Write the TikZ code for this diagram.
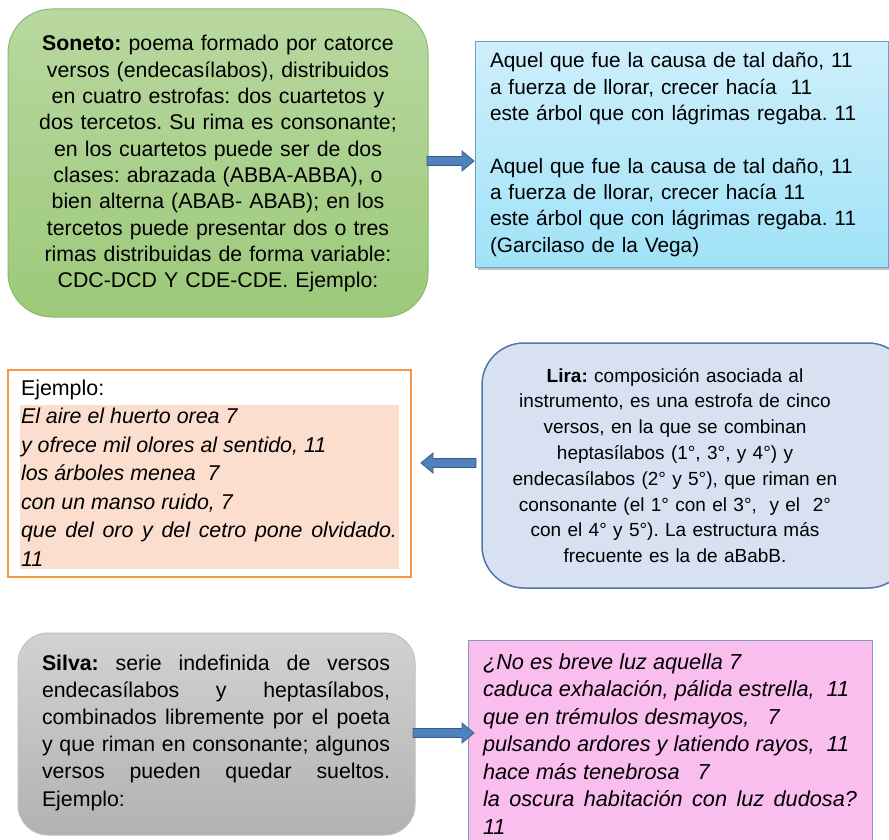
\documentclass[tikz,border=0pt]{standalone}
\usepackage{fontspec}
\setmainfont{Liberation Sans}
\frenchspacing
\definecolor{arrowfill}{RGB}{79,129,189}
\definecolor{arrowline}{RGB}{56,93,138}
\definecolor{greentop}{RGB}{184,216,160}
\definecolor{greenbot}{RGB}{156,201,122}
\definecolor{greenline}{RGB}{140,186,106}
\definecolor{cyantop}{RGB}{206,239,251}
\definecolor{cyanbot}{RGB}{160,226,248}
\definecolor{cyanline}{RGB}{112,160,200}
\definecolor{orangeline}{RGB}{247,150,70}
\definecolor{peach}{RGB}{251,222,205}
\definecolor{lirafill}{RGB}{215,225,242}
\definecolor{liraline}{RGB}{79,120,168}
\definecolor{graytop}{RGB}{210,210,210}
\definecolor{graybot}{RGB}{178,178,178}
\definecolor{grayline}{RGB}{192,192,192}
\definecolor{pinkfill}{RGB}{249,190,238}
\definecolor{pinkline}{RGB}{125,155,195}
\tikzset{
  txt/.style={inner sep=0pt, outer sep=0pt, text=black},
  blockarrow/.style={fill=arrowfill, draw=arrowline, line width=0.8pt, line join=miter},
}
\begin{document}
\begin{tikzpicture}[x=1pt,y=-1pt]
\path[use as bounding box, clip] (0,0) rectangle (889,840);
\fill[white] (0,0) rectangle (889,840);

% ---------- Row 1 ----------
\draw[greenline, line width=1pt, rounded corners=44pt, top color=greentop, bottom color=greenbot]
  (8,9) rectangle (428,317);
\node[txt, anchor=base, align=center, text width=420pt,
      font={\fontsize{21.3}{26.3}\selectfont\frenchspacing}] (soneto) at (218,51) {%
\textbf{Soneto:} poema formado por catorce\\
versos (endecasílabos), distribuidos\\
en cuatro estrofas: dos cuartetos y\\
dos tercetos. Su rima es consonante;\\
en los cuartetos puede ser de dos\\
clases: abrazada (ABBA-ABBA), o\\
bien alterna (ABAB- ABAB); en los\\
tercetos puede presentar dos o tres\\
rimas distribuidas de forma variable:\\
CDC-DCD Y CDE-CDE. Ejemplo:};

\fill[black!25] (478,45) rectangle (891,270);
\draw[cyanline, line width=1pt, top color=cyantop, bottom color=cyanbot]
  (475,42) rectangle (888,267);
\node[txt, anchor=base west, align=left, text width=395pt,
      font={\fontsize{20.8}{26.3}\selectfont\frenchspacing}] (garci) at (490,68) {%
Aquel que fue la causa de tal daño, 11\\
a fuerza de llorar, crecer hacía\ \ 11\\
este árbol que con lágrimas regaba. 11\\[26.3pt]
Aquel que fue la causa de tal daño, 11\\
a fuerza de llorar, crecer hacía 11\\
este árbol que con lágrimas regaba. 11\\
(Garcilaso de la Vega)};

\draw[blockarrow] (427,156.5) -- (462,156.5) -- (462,151) -- (474,161) -- (462,171) -- (462,165.5) -- (427,165.5) -- cycle;

% ---------- Row 2 ----------
\draw[orangeline, line width=1.5pt, fill=white] (8,370) rectangle (411,577);
\fill[peach] (20,405) rectangle (399,569);
\node[txt, anchor=base west, align=justify, text width=376pt,
      font={\fontsize{21.4}{28.5}\selectfont\frenchspacing}] (lirapoem) at (21,395) {%
Ejemplo:\\
\itshape El aire el huerto orea 7\\
y ofrece mil olores al sentido, 11\\
los árboles menea\ \ 7\\
con un manso ruido, 7\\
que del oro y del cetro pone olvidado.\linebreak
11};

\draw[liraline, line width=1.5pt, fill=lirafill, rounded corners=42pt]
  (482,343) rectangle (910,588);
\node[txt, anchor=base, align=center, text width=400pt,
      font={\fontsize{19}{25.8}\selectfont\frenchspacing}] (lira) at (675,382) {%
\textbf{Lira:} composición asociada al\\
instrumento, es una estrofa de cinco\\
versos, en la que se combinan\\
heptasílabos (1°, 3°, y 4°) y\\
endecasílabos (2° y 5°), que riman en\\
consonante (el 1° con el 3°,\ \ y el\ \ 2°\\
con el 4° y 5°). La estructura más\\
frecuente es la de aBabB.};

\draw[blockarrow] (476,458.5) -- (433,458.5) -- (433,453) -- (421,463) -- (433,473) -- (433,467.5) -- (476,467.5) -- cycle;

% ---------- Row 3 ----------
\draw[grayline, line width=1pt, rounded corners=30pt, top color=graytop, bottom color=graybot]
  (18,633) rectangle (415,835);
\node[txt, anchor=base west, align=justify, text width=348pt,
      font={\fontsize{21.3}{27.2}\selectfont\frenchspacing}] (silva) at (42,670) {%
\textbf{Silva:} serie indefinida de versos\linebreak
endecasílabos y heptasílabos,\linebreak
combinados libremente por el poeta\linebreak
y que riman en consonante; algunos\linebreak
versos pueden quedar sueltos.\linebreak
Ejemplo:};

\draw[pinkline, line width=1pt, fill=pinkfill] (468,640) rectangle (872,860);
\node[txt, anchor=base west, align=justify, text width=374pt,
      font={\fontsize{21.7}{27.5}\selectfont\frenchspacing\itshape}] (silvapoem) at (483,669) {%
¿No es breve luz aquella 7\\
caduca exhalación, pálida estrella,\ \ 11\\
que en trémulos desmayos,\ \ \ 7\\
pulsando ardores y latiendo rayos,\ \ 11\\
hace más tenebrosa\ \ \ 7\\
la oscura habitación con luz dudosa?\linebreak
11};

\draw[blockarrow] (413,728.5) -- (462,728.5) -- (462,723) -- (474,733) -- (462,743) -- (462,737.5) -- (413,737.5) -- cycle;
\end{tikzpicture}
\end{document}
